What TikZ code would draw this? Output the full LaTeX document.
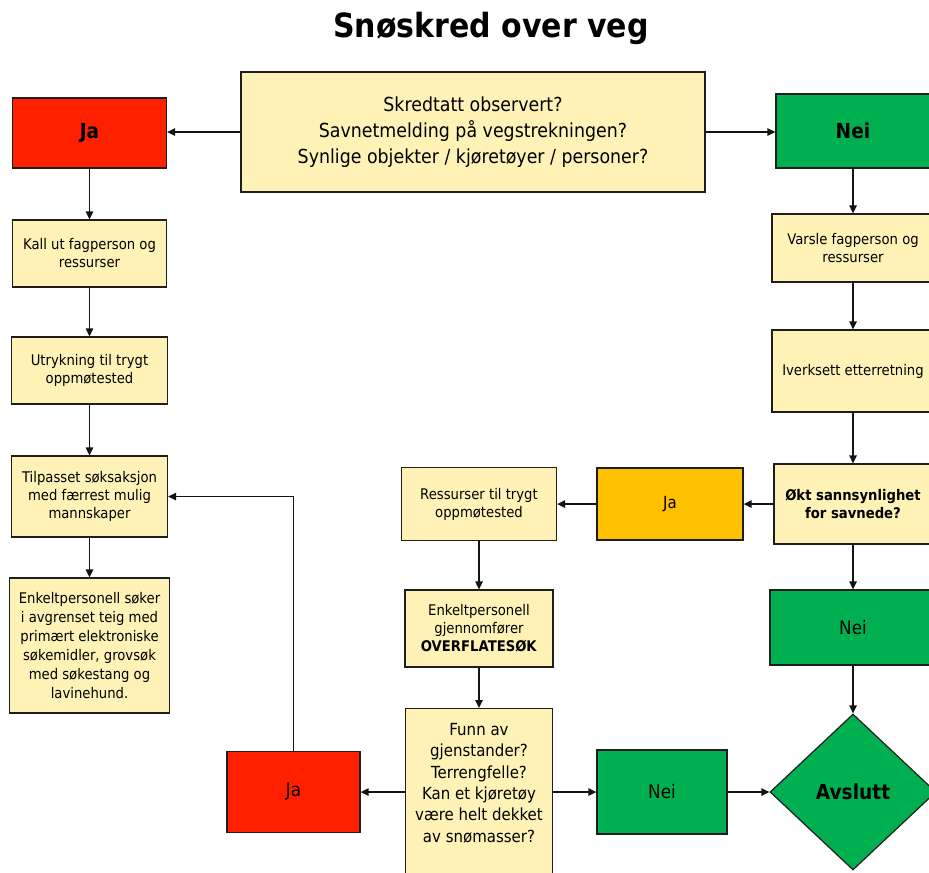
\documentclass[tikz,border=0pt]{standalone}
\usepackage{fontspec}
\setmainfont{DejaVu Sans}[FakeStretch=0.9]
\usetikzlibrary{arrows.meta,shapes.geometric}

\begin{document}
\begin{tikzpicture}[x=0.75pt,y=0.75pt,yscale=-1,xscale=1,
	boks/.style={draw={rgb, 255:red, 30; green, 30; blue, 30 },line width=0.9pt,fill={rgb, 255:red, 255; green, 242; blue, 182 },align=center,inner sep=1pt,font=\fontsize{11}{13.5}\selectfont},
	rodboks/.style={boks,fill={rgb, 255:red, 255; green, 32; blue, 0 },font=\fontsize{14}{17}\selectfont},
	gronnboks/.style={boks,fill={rgb, 255:red, 0; green, 176; blue, 80 },font=\fontsize{14}{17}\selectfont},
	gulboks/.style={boks,fill={rgb, 255:red, 255; green, 192; blue, 0 },font=\fontsize{12.5}{15}\selectfont},
	pil/.style={draw={rgb, 255:red, 20; green, 20; blue, 20 },line width=1.25pt,-{Triangle[length=6pt,width=5.5pt]}}]
	\useasboundingbox (0,0) rectangle (929,872);

	% Text Node
	\node (tittel) [anchor=base,font=\fontsize{25}{30}\selectfont\bfseries] at (491,37) {Snøskred over veg};

	%Shape: Rectangle
	\node (sporsmal) [boks,minimum width=348pt,minimum height=90pt,font=\fontsize{14.5}{19.5}\selectfont] at (473,132) {Skredtatt observert?\\Savnetmelding på vegstrekningen?\\Synlige objekter / kjøretøyer / personer?};
	\node (jaTopp) [rodboks,minimum width=115.5pt,minimum height=52.5pt,font=\fontsize{15.5}{18}\selectfont\bfseries] at (89.5,133) {Ja};
	\node (neiTopp) [gronnboks,minimum width=115.5pt,minimum height=55.5pt,font=\fontsize{15.5}{18}\selectfont\bfseries] at (853,131) {Nei};

	% venstre kolonne
	\node (kall) [boks,minimum width=115.5pt,minimum height=50.25pt] at (89.5,253.5) {Kall ut fagperson og\\ressurser};
	\node (utrykning) [boks,minimum width=117pt,minimum height=50.25pt] at (89.5,370.5) {Utrykning til trygt\\oppmøtested};
	\node (tilpasset) [boks,minimum width=117pt,minimum height=60.75pt] at (89.5,496.5) {Tilpasset søksaksjon\\med færrest mulig\\mannskaper};
	\node (enkeltSoker) [boks,minimum width=120pt,minimum height=101.25pt,font=\fontsize{11}{14.25}\selectfont] at (89.5,645.5) {Enkeltpersonell søker\\i avgrenset teig med\\primært elektroniske\\søkemidler, grovsøk\\med søkestang og\\lavinehund.};

	% høyre kolonne
	\node (varsle) [boks,minimum width=121.5pt,minimum height=51pt] at (853,248) {Varsle fagperson og\\ressurser};
	\node (iverksett) [boks,minimum width=121.5pt,minimum height=61.5pt] at (853,371) {Iverksett etterretning};
	\node (okt) [boks,minimum width=118.5pt,minimum height=60pt,font=\fontsize{11}{13.5}\selectfont\bfseries] at (853,504) {Økt sannsynlighet\\for savnede?};
	\node (neiMidt) [gronnboks,minimum width=124.5pt,minimum height=56.25pt] at (853,627.5) {Nei};
	%Shape: Diamond
	\node (avslutt) [boks,diamond,inner sep=0pt,fill={rgb, 255:red, 0; green, 176; blue, 80 },minimum width=124.5pt,minimum height=117pt,font=\fontsize{15.5}{18}\selectfont\bfseries] at (853,792) {Avslutt};

	% midten
	\node (jaGul) [gulboks,minimum width=109.5pt,minimum height=54pt] at (670,504) {Ja};
	\node (ressurser) [boks,minimum width=116.25pt,minimum height=54.75pt] at (479,504) {Ressurser til trygt\\oppmøtested};
	\node (overflate) [boks,minimum width=111pt,minimum height=57.75pt] at (479,628.5) {Enkeltpersonell\\gjennomfører\\\textbf{OVERFLATESØK}};
	\node (funn) [boks,anchor=north,minimum width=110.25pt,inner ysep=11pt,font=\fontsize{12.5}{16}\selectfont] at (479,708) {Funn av\\gjenstander?\\Terrengfelle?\\Kan et kjøretøy\\være helt dekket\\av snømasser?\rule[-30pt]{0pt}{0pt}};
	\node (neiBunn) [gronnboks,minimum width=97.5pt,minimum height=63pt] at (662,792) {Nei};
	\node (jaBunn) [rodboks,minimum width=99.75pt,minimum height=60.75pt] at (293.5,792) {Ja};

	%Straight Lines
	\draw [pil] (sporsmal.west) -- (sporsmal.west -| jaTopp.east);
	\draw [pil] (sporsmal.east) -- (sporsmal.east -| neiTopp.west);
	\draw [pil] (jaTopp) -- (kall);
	\draw [pil] (kall) -- (utrykning);
	\draw [pil] (utrykning) -- (tilpasset);
	\draw [pil] (tilpasset) -- (enkeltSoker);
	\draw [pil] (neiTopp) -- (varsle);
	\draw [pil] (varsle) -- (iverksett);
	\draw [pil] (iverksett) -- (okt);
	\draw [pil] (okt) -- (neiMidt);
	\draw [pil] (neiMidt) -- (avslutt);
	\draw [pil] (okt) -- (jaGul);
	\draw [pil] (jaGul) -- (ressurser);
	\draw [pil] (ressurser) -- (overflate);
	\draw [pil] (overflate) -- (funn);
	\draw [pil] (jaBunn.east -| funn.west) -- (jaBunn.east);
	\draw [pil] (neiBunn.west -| funn.east) -- (neiBunn.west);
	\draw [pil] (neiBunn) -- (avslutt);
	\draw [pil] (jaBunn.north) |- (tilpasset.east);

\end{tikzpicture}
\end{document}
